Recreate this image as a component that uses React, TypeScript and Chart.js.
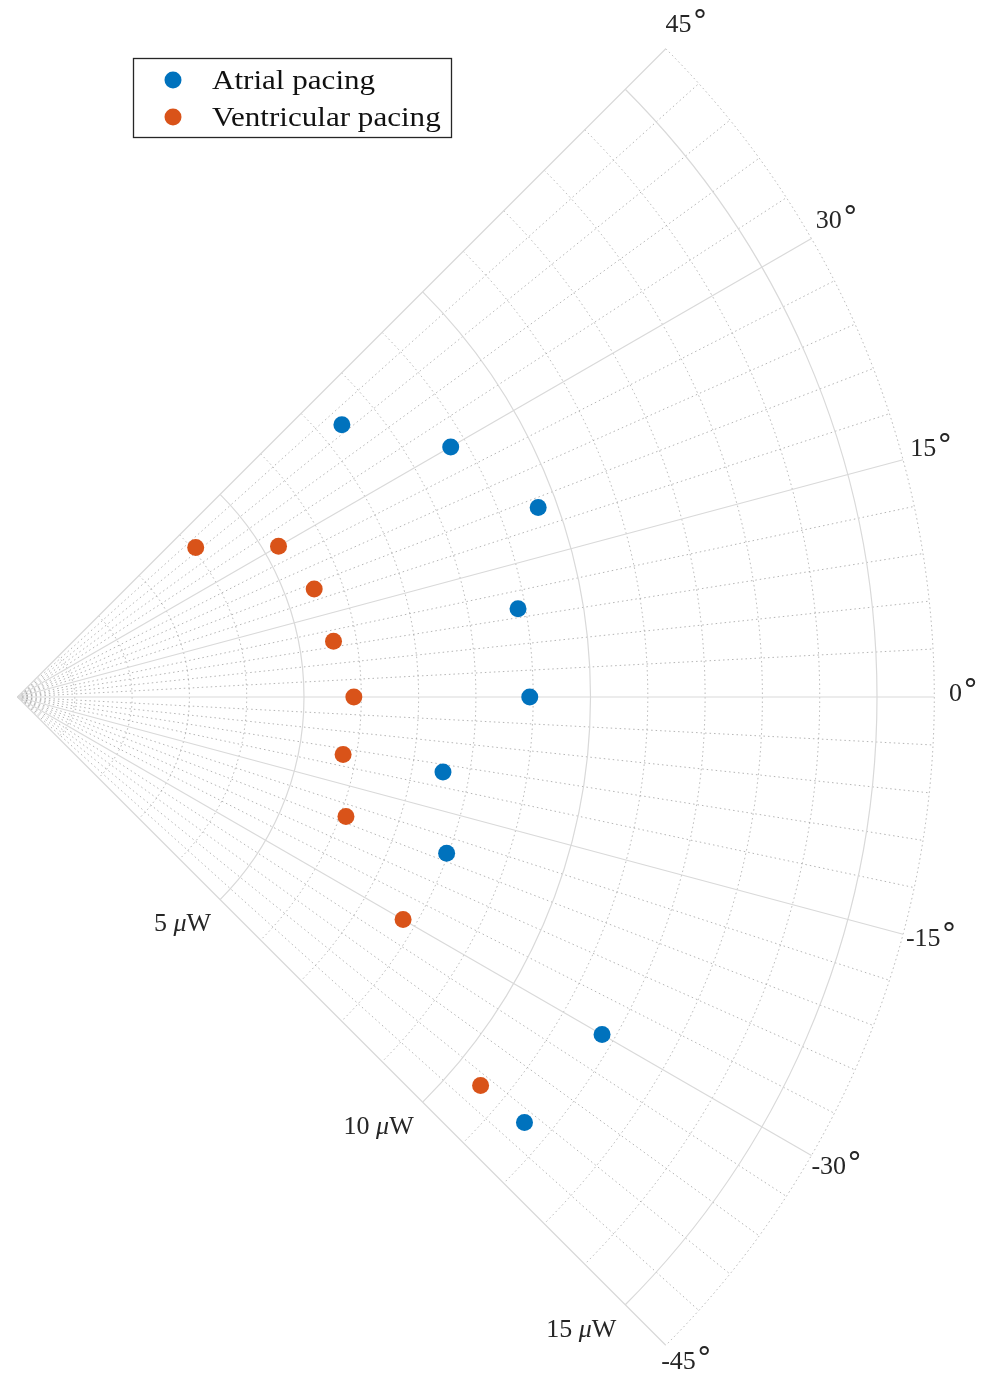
import React, { useEffect, useRef } from "react";
import { Chart, registerables } from "chart.js";

Chart.register(...registerables);

const atrialPower = [11.55, 11.78, 7.97, 7.54, 8.94, 8.87, 9.67, 8.73, 7.39];
const atrialAngle = [-40, -30, -20, -10, 0, 10, 20, 30, 40];
const ventricularPower = [10.55, 7.77, 6.1, 5.77, 5.87, 5.6, 5.51, 5.26, 4.06];
const ventricularAngle = [-40, -30, -20, -10, 0, 10, 20, 30, 40];

const angleTicks = [-45, -30, -15, 0, 15, 30, 45];
const angleTickLabels = ["-45", "-30", "-15", "0", "15", "30", "45"];
const radialTicks = [5, 10, 15];
const radialTickNumbers = ["5", "10", "15"];
const radialUnit = "W";
const radialPrefix = "μ";
const rMax = 16;
const minorAngleStep = 3;
const minorRadialStep = 1;

const W = 983;
const H = 1382;
const K = 57.3;
const OX = 17.5;
const OY = 697;

const SERIF = '"Liberation Serif", "Times New Roman", serif';

const toXY = (r: number[], a: number[]) =>
  r.map((v, i) => ({
    x: v * Math.cos((a[i] * Math.PI) / 180),
    y: v * Math.sin((a[i] * Math.PI) / 180),
  }));

const polarGrid = {
  id: "polarGrid",
  beforeDatasetsDraw(chart: any) {
    const { ctx, scales } = chart;
    const xs = scales.x;
    const ys = scales.y;
    const cx = xs.getPixelForValue(0);
    const cy = ys.getPixelForValue(0);
    const pr = (r: number) => xs.getPixelForValue(r) - cx;
    const pt = (r: number, deg: number) => {
      const t = (deg * Math.PI) / 180;
      return [xs.getPixelForValue(r * Math.cos(t)), ys.getPixelForValue(r * Math.sin(t))];
    };
    ctx.save();
    ctx.setLineDash([1.5, 3]);
    ctx.strokeStyle = "rgba(150,150,150,0.7)";
    ctx.lineWidth = 1;
    for (let r = minorRadialStep; r <= rMax + 1e-6; r += minorRadialStep) {
      if (radialTicks.includes(r)) continue;
      ctx.beginPath();
      ctx.arc(cx, cy, pr(r), -Math.PI / 4, Math.PI / 4);
      ctx.stroke();
    }
    for (let a = -45; a <= 45; a += minorAngleStep) {
      if (angleTicks.includes(a)) continue;
      const [x1, y1] = pt(rMax, a);
      ctx.beginPath();
      ctx.moveTo(cx, cy);
      ctx.lineTo(x1, y1);
      ctx.stroke();
    }
    ctx.setLineDash([]);
    ctx.strokeStyle = "#d9d9d9";
    ctx.lineWidth = 1.2;
    for (const r of radialTicks) {
      ctx.beginPath();
      ctx.arc(cx, cy, pr(r), -Math.PI / 4, Math.PI / 4);
      ctx.stroke();
    }
    for (const a of angleTicks) {
      const [x1, y1] = pt(rMax, a);
      ctx.beginPath();
      ctx.moveTo(cx, cy);
      ctx.lineTo(x1, y1);
      ctx.stroke();
    }
    ctx.restore();
  },
  afterDraw(chart: any) {
    const { ctx, scales } = chart;
    const xs = scales.x;
    const ys = scales.y;
    const pt = (r: number, deg: number) => {
      const t = (deg * Math.PI) / 180;
      return [xs.getPixelForValue(r * Math.cos(t)), ys.getPixelForValue(r * Math.sin(t))];
    };
    ctx.save();
    ctx.fillStyle = "#262626";
    ctx.textBaseline = "middle";
    angleTicks.forEach((a, i) => {
      const [x, y0] = pt(rMax + 0.5, a);
      const y = y0 - 3;
      ctx.font = `26px ${SERIF}`;
      const wn = ctx.measureText(angleTickLabels[i]).width;
      ctx.font = `30px "DejaVu Sans", sans-serif`;
      const wd = ctx.measureText("°").width;
      const left = x - (wn + wd) / 2;
      ctx.textAlign = "left";
      ctx.font = `26px ${SERIF}`;
      ctx.fillText(angleTickLabels[i], left, y);
      ctx.font = `30px "DejaVu Sans", sans-serif`;
      ctx.fillText("°", left + wn + 1, y - 2);
    });
    ctx.textAlign = "right";
    radialTicks.forEach((r, i) => {
      const [x, y] = pt(r, -45);
      ctx.font = `26px ${SERIF}`;
      const wW = ctx.measureText(radialUnit).width;
      ctx.font = `italic 26px ${SERIF}`;
      const wMu = ctx.measureText(radialPrefix).width;
      const right = x - 9;
      const yy = y + 25;
      ctx.font = `26px ${SERIF}`;
      ctx.fillText(radialUnit, right, yy);
      ctx.font = `italic 26px ${SERIF}`;
      ctx.fillText(radialPrefix, right - wW, yy);
      ctx.font = `26px ${SERIF}`;
      ctx.fillText(radialTickNumbers[i] + " ", right - wW - wMu, yy);
    });
    ctx.fillStyle = "#ffffff";
    ctx.fillRect(133, 58, 318, 79);
    ctx.strokeStyle = "#262626";
    ctx.lineWidth = 1.3;
    ctx.strokeRect(133.5, 58.5, 318, 79);
    const ds = chart.data.datasets;
    const rowsY = [80, 117];
    ds.forEach((d: any, i: number) => {
      ctx.beginPath();
      ctx.arc(173, rowsY[i], 8.5, 0, Math.PI * 2);
      ctx.fillStyle = d.backgroundColor;
      ctx.fill();
      ctx.save();
      ctx.fillStyle = "#111";
      ctx.font = `28px ${SERIF}`;
      ctx.textAlign = "left";
      ctx.textBaseline = "alphabetic";
      ctx.translate(212, rowsY[i] + 9);
      ctx.scale(1.11, 1);
      ctx.fillText(d.label, 0, 0);
      ctx.restore();
    });
    ctx.restore();
  },
};

export default function App() {
  const ref = useRef<HTMLCanvasElement>(null);
  useEffect(() => {
    if (!ref.current) return;
    const chart = new Chart(ref.current, {
      type: "scatter",
      data: {
        datasets: [
          {
            label: "Atrial pacing",
            data: toXY(atrialPower, atrialAngle),
            backgroundColor: "#0072BD",
            borderColor: "#0072BD",
            pointRadius: 8.5,
            pointBorderWidth: 0,
          },
          {
            label: "Ventricular pacing",
            data: toXY(ventricularPower, ventricularAngle),
            backgroundColor: "#D95319",
            borderColor: "#D95319",
            pointRadius: 8.5,
            pointBorderWidth: 0,
          },
        ],
      },
      options: {
        responsive: false,
        animation: false,
        layout: { padding: 0, autoPadding: false },
        plugins: { legend: { display: false }, tooltip: { enabled: false } },
        scales: {
          x: { type: "linear", display: false, min: -OX / K, max: (W - OX) / K },
          y: { type: "linear", display: false, min: -(H - OY) / K, max: OY / K },
        },
      },
      plugins: [polarGrid],
    });
    return () => chart.destroy();
  }, []);
  return (
    <div style={{ position: "fixed", left: 0, top: 0, width: W, height: H, background: "#fff" }}>
      <canvas ref={ref} width={W} height={H} style={{ display: "block" }} />
    </div>
  );
}
